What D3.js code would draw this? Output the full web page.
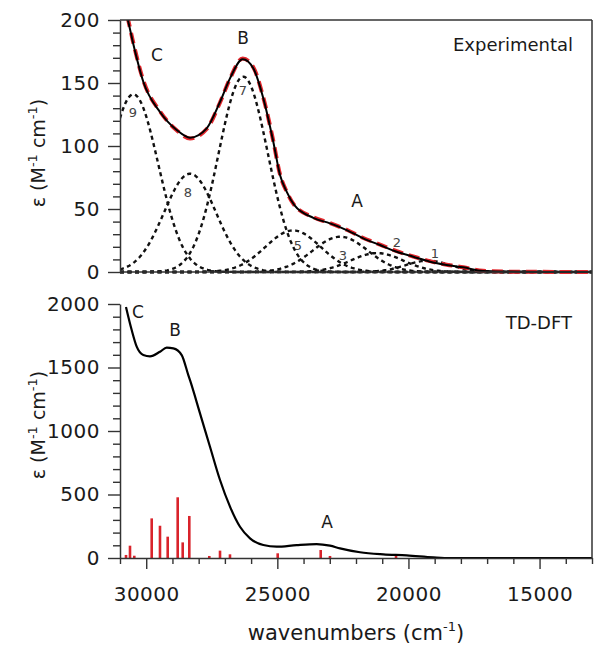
<!DOCTYPE html>
<html>
<head>
<meta charset="utf-8">
<script src="https://cdn.jsdelivr.net/npm/d3@7"></script>
<style>
html,body{margin:0;padding:0;background:#fff;}
svg{display:block;font-family:"DejaVu Sans",sans-serif;}
</style>
</head>
<body>
<svg id="chart" width="604" height="656"></svg>
<script>
// ---------- DATA ----------
// Experimental spectrum (wavenumber cm^-1, epsilon M^-1 cm^-1)
const expWavenumbers = [30900,30700,30493,30111,29475,28838,28330,27694,27186,26805,26321,25917,25535,25154,24898,24650,24350,23628,22992,22354,21722,21085,20448,19815,19178,18541,17908,17157,15745,13000];
const expEpsilon     = [215,  200,  181,  151,  127,  112.7,106.6,114,  135,  153.7,168.8,161.7,137.9,103.4,77,   64,   53,   43,   38.6, 33.3, 26.7, 21.4, 16.1, 12.1, 8.2,  5.6,  3.7,  0.8,  0.2,  0];
// Fit (red dashed)
const fitWavenumbers = [30900,30700,30493,30111,29475,28838,28330,27694,27186,26805,26321,25917,25535,25154,24898,24650,24350,23628,22992,22354,21722,21085,20448,19815,19178,18541,17908,17157,15745,13000];
const fitEpsilon     = [216,  201,  182,  152,  127.5,112.5,106,  113.5,134.5,153.5,169.5,162.5,138.5,104,  77.5, 64,   53,   43.5, 38.8, 33.5, 27,   21.8, 16.5, 12.3, 8.6,  5.8,  3.8,  0.9,  0.2,  0];
// Gaussian components: label, centre (cm^-1), height (M^-1 cm^-1), width sigma (cm^-1)
const bandLabels  = ["1",  "2",  "3",  "5",  "7",  "8",  "9"];
const bandCenters = [19250,21200,22600,24400,26300,28330,30490];
const bandHeights = [9,    15,   28,   33,   155,  78,   141];
const bandSigmas  = [850,  1000, 1050, 1050, 940,  990,  951];
// TD-DFT spectrum
const calcWavenumbers = [30771,30554,30363,30111,29856,29475,29219,28967,28647,28395,28330,27949,27568,27186,26805,26424,26042,25535,25026,24263,23501,22992,22610,21847,20958,20066,19051,18415,16000,13000];
const calcEpsilon     = [1976, 1795, 1664, 1598, 1588, 1624, 1656, 1651, 1598, 1440, 1400, 1139, 876,  614,  404,  246,  155,  102,  89,   102,  110,  97,   76,   45,   29,   21,   5.5,  0,    0,    0];
// TD-DFT transitions (red sticks)
const stickWavenumbers = [30771,30619,30455,29791,29475,29181,28800,28609,28357,27594,27186,26806,24986,23346,22992,20474];
const stickEpsilon     = [24,   97,   18,   312,  254,  168,  478,  123,  331,  16,   58,   29,   37,   63,   16,   24];
// Axis ticks
const xMajorTicks = [30000,25000,20000,15000];
const xMinorTicks = d3.range(31000,12999,-1000);
const yTopMajor = [0,50,100,150,200];
const yTopMinor = d3.range(0,201,10);
const yBotMajor = [0,500,1000,1500,2000];
const yBotMinor = d3.range(0,2001,100);

// ---------- LAYOUT ----------
const svg = d3.select("#chart");
const L=120, R=592, T1=20, B1=272, T2=304, B2=558;
const xScale = d3.scaleLinear().domain([31000,13000]).range([L,R]);
const yTop = d3.scaleLinear().domain([0,200]).range([B1,T1]);
const yBot = d3.scaleLinear().domain([0,2000]).range([B2,T2]);
const axisColor = "#333333";
const textColor = "#1a1a1a";

const defs = svg.append("defs");
defs.append("clipPath").attr("id","clipTop").append("rect").attr("x",L).attr("y",T1).attr("width",R-L).attr("height",B1-T1+2);
defs.append("clipPath").attr("id","clipBot").append("rect").attr("x",L).attr("y",T2-30).attr("width",R-L).attr("height",B2-T2+30);

// ---------- TEXT ----------
const labels = svg.append("g").attr("class","labels");
function addText(px, py, txt, size, anchor, color){
  return labels.append("text").attr("x",px).attr("y",py).attr("text-anchor",anchor||"middle")
    .attr("dy","0.35em").attr("font-size",size).attr("fill",color||textColor).text(txt);
}
addText(573, 45, "Experimental", 18, "end");
addText(157, 55, "C", 17);
addText(243, 38, "B", 17);
addText(357, 201, "A", 17);
const bandLabelPos = [[435,253],[397,242],[343,255],[298,245],[243,90],[188,192],[133,112]];
bandLabels.forEach((lab,i)=>addText(bandLabelPos[i][0], bandLabelPos[i][1], lab, 13, "middle", "#444"));

addText(572, 323, "TD-DFT", 18, "end");
addText(138, 312, "C", 17);
addText(175, 330, "B", 17);
addText(327, 522, "A", 17);

function yTitle(cx, cy){
  const t = labels.append("text").attr("transform",`translate(${cx},${cy}) rotate(-90)`)
    .attr("text-anchor","middle").attr("font-size",19).attr("fill",textColor);
  t.append("tspan").text("ε (M");
  t.append("tspan").attr("font-size",13).attr("dy",-8).text("-1");
  t.append("tspan").attr("dy",8).text(" cm");
  t.append("tspan").attr("font-size",13).attr("dy",-8).text("-1");
  t.append("tspan").attr("dy",8).text(")");
}
yTitle(45, 153);
yTitle(45, 425);

const xt = labels.append("text").attr("x",356).attr("y",640).attr("text-anchor","middle")
  .attr("font-size",21).attr("fill",textColor);
xt.append("tspan").text("wavenumbers (cm");
xt.append("tspan").attr("font-size",13).attr("dy",-9).text("-1");
xt.append("tspan").attr("dy",9).text(")");

// ---------- TOP PANEL MARKS ----------
const gridW = d3.range(31000,12999,-50);
const gLine = d3.line().x(d=>xScale(d[0])).y(d=>yTop(d[1]));
const bands = bandCenters.map((c,i)=>gridW.map(w=>[w, bandHeights[i]*Math.exp(-((w-c)*(w-c))/(2*bandSigmas[i]*bandSigmas[i]))]));
const plotTop = svg.append("g").attr("clip-path","url(#clipTop)");
plotTop.selectAll("path.band").data(bands).join("path").attr("class","band")
  .attr("d",gLine).attr("fill","none").attr("stroke","#111").attr("stroke-width",2.4).attr("stroke-dasharray","4,3.5");
const lineTop = d3.line().curve(d3.curveMonotoneX).x(d=>xScale(d[0])).y(d=>yTop(d[1]));
plotTop.append("path").datum(fitWavenumbers.map((w,i)=>[w,fitEpsilon[i]])).attr("d",lineTop).attr("fill","none")
  .attr("stroke","#e3262c").attr("stroke-width",4).attr("stroke-dasharray","11,6");
plotTop.append("path").datum(expWavenumbers.map((w,i)=>[w,expEpsilon[i]])).attr("d",lineTop).attr("fill","none")
  .attr("stroke","#000").attr("stroke-width",2);

// ---------- BOTTOM PANEL MARKS ----------
const plotBot = svg.append("g").attr("clip-path","url(#clipBot)");
plotBot.selectAll("line.stick").data(stickWavenumbers.map((w,i)=>[w,stickEpsilon[i]])).join("line").attr("class","stick")
  .attr("x1",d=>xScale(d[0])).attr("x2",d=>xScale(d[0])).attr("y1",yBot(0)).attr("y2",d=>yBot(d[1]))
  .attr("stroke","#d9232b").attr("stroke-width",2.6);
const lineBot = d3.line().curve(d3.curveMonotoneX).x(d=>xScale(d[0])).y(d=>yBot(d[1]));
plotBot.append("path").datum(calcWavenumbers.map((w,i)=>[w,calcEpsilon[i]])).attr("d",lineBot).attr("fill","none")
  .attr("stroke","#000").attr("stroke-width",2.2);

// ---------- AXES ----------
function yAxis(scale, minor, major){
  const isMajor = v => major.indexOf(v) >= 0;
  const a = svg.append("g").attr("transform",`translate(${L},0)`)
    .call(d3.axisLeft(scale).tickValues(minor).tickSizeInner(7).tickSizeOuter(0).tickPadding(8)
      .tickFormat(v => isMajor(v) ? String(v) : ""));
  a.select(".domain").attr("stroke",axisColor).style("stroke",axisColor).attr("stroke-width",1.5);
  a.selectAll(".tick line").attr("stroke",axisColor).style("stroke",axisColor).attr("stroke-width",1.4)
    .attr("x2", v => isMajor(v) ? -12 : -7);
  a.selectAll(".tick text").attr("x",-20).attr("fill",textColor).attr("font-size",20)
    .attr("letter-spacing","0.5px").attr("font-family","DejaVu Sans, sans-serif");
  return a;
}
const ayTop = yAxis(yTop, yTopMinor, yTopMajor);
const ayBot = yAxis(yBot, yBotMinor, yBotMajor);

const xIsMajor = v => xMajorTicks.indexOf(v) >= 0;
const xa = svg.append("g").attr("transform",`translate(0,${B2})`)
  .call(d3.axisBottom(xScale).tickValues(xMinorTicks).tickSizeInner(6).tickSizeOuter(0).tickPadding(16)
    .tickFormat(v => xIsMajor(v) ? String(v) : ""));
xa.select(".domain").attr("stroke",axisColor).style("stroke",axisColor).attr("stroke-width",1.5);
xa.selectAll(".tick line").attr("stroke",axisColor).style("stroke",axisColor).attr("stroke-width",1.4)
  .attr("y2", v => xIsMajor(v) ? 11 : 6);
xa.selectAll(".tick text").attr("y",29).attr("fill",textColor).attr("font-size",20)
  .attr("letter-spacing","0.5px").attr("font-family","DejaVu Sans, sans-serif");

// Frame
svg.append("line").attr("x1",L).attr("x2",R).attr("y1",T1).attr("y2",T1).attr("stroke",axisColor).attr("stroke-width",1.5);
svg.append("line").attr("x1",R).attr("x2",R).attr("y1",T1).attr("y2",B2).attr("stroke",axisColor).attr("stroke-width",1.5);
svg.append("line").attr("x1",L).attr("x2",R).attr("y1",B1).attr("y2",B1).attr("stroke",axisColor).attr("stroke-width",1.5);

// force style/layout resolution of the axis elements
[ayTop, ayBot, xa].forEach(a => {
  a.node().getBBox();
  a.selectAll("line, path").each(function(){ getComputedStyle(this).stroke; });
});
document.elementFromPoint(116, 83);
document.elementFromPoint(120, 400);
</script>
</body>
</html>
